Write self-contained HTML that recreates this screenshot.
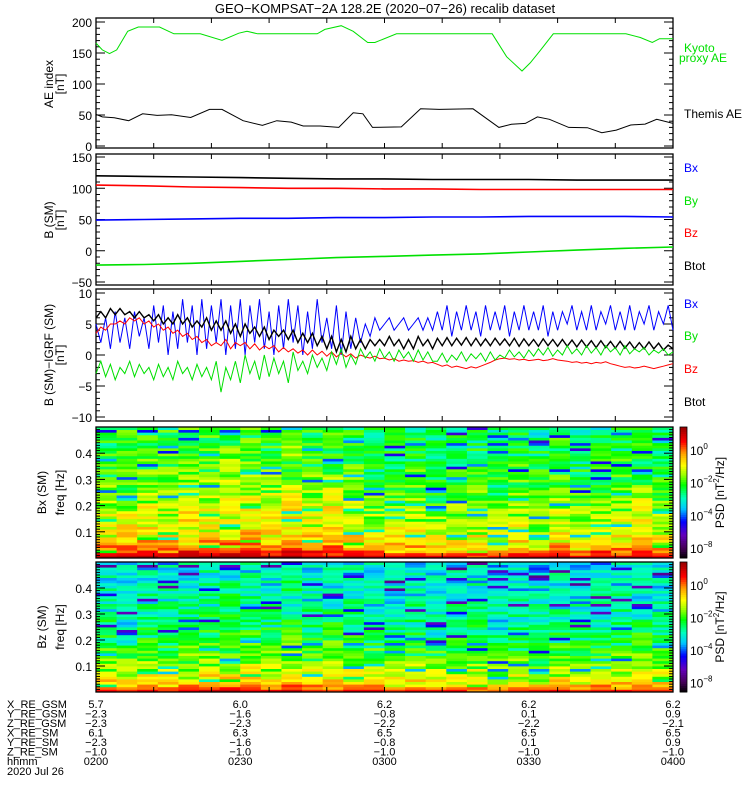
<!DOCTYPE html>
<html><head><meta charset="utf-8"><style>
html,body{margin:0;padding:0;background:#fff;}
svg{display:block;font-family:"Liberation Sans",sans-serif;}
text{font-family:"Liberation Sans",sans-serif;}
</style></head><body>
<svg id="chart" width="750" height="800" viewBox="0 0 750 800" xmlns="http://www.w3.org/2000/svg">
<text x="385" y="13" font-size="13" text-anchor="middle">GEO−KOMPSAT−2A 128.2E (2020−07−26) recalib dataset</text>
</svg>
<script>
// ---------- data ----------
const aeKyotoT = [0,1.3,2.8,4.3,6.6,8.8,13.2,16.2,21.7,26.2,29.7,31.4,33.6,46,47.6,51,53.5,56.5,58,62.5,82.4,85.4,88.6,90.3,92.3,95.1,110.2,113.2,115.7,117.2,120];
const aeKyotoV = [166,155,149,155,185,192,192,181,181,170.5,182,185,181,181,188,194,185,167,167,181,181,144,121,134,153,181,181,175,167,173,173];
const aeThemisT = [0,1.3,3.8,6.8,9.7,12.7,15.7,19.7,23.6,26.2,30.6,34.6,37.6,40.6,43.1,46.6,50.5,53.5,55.5,57.5,63.5,67.5,71.4,78.4,83.8,86.4,89.3,91.8,94.3,98.3,102.2,105.2,108.2,111.2,114.2,116.6,120];
const aeThemisV = [51,47,45.6,40.8,52,49.3,50.4,46,59,59,40.8,33.2,40.8,38.6,32.2,32.2,30,53.6,52,30,30.8,60,59,60,30,35,36.5,47,43,30,29.5,21.4,25.7,33.8,35.4,43,36.5];

const b2T = [0,10,20,30,40,50,60,70,80,90,100,110,120];
const b2Btot = [120,119,118,117,116,115,115,114,114,114,113,113,113];
const b2Bz = [105,104,102,101,100,100,99,99,98,98,98,98,98];
const b2Bx = [49,50,51,52,52,53,53,54,54,55,55,55,54];
const b2By = [-23,-22,-20,-17,-14,-11,-9,-7,-5,-2,1,4,6];

const dBx = [5,2,6,1,7,2,6,1,7,3,6,
 1,8,2,8,0,7,1,9,2,8,0,9,1,8,2,
 9,0,8,1,9,0,8,2,9,1,7,0,8,1,9,2,8,0,7,1,9,2,6,1,8,0,7,1,6,2,
 5,3,6,4,5,6,4,5,6,4,5,6,4,6,4,
 7,4,8,3,7,4,8,4,7,3,8,4,7,4,8,3,7,4,8,4,7,4,8,3,7,4,7,5,8,4,7,4,8,4,7,5,8,4,7,4,8,4,7,5,8,4,7,5,8,4];
const dBtot = [6,7,6,7.5,6.5,7.5,6.5,7,6,7,6,
 6.5,5.5,6.5,5,6,5,6.5,5,6,4.5,5.5,4.5,6,4,5.5,
 4,5.5,3.5,5,3,5,3.5,4.5,3,4.5,2.5,4,3,4,2.5,4,2,3.5,2,3.5,1.5,3,1,3,0.5,2.5,0.5,3,1,2.5,
 1,2.5,1.5,2.5,1.5,3,1.5,2.5,1,2.5,1,3,1.5,2.5,1,
 2.7,1.5,2.8,1.5,2.7,1.6,2.8,1.5,2.7,1.5,2.6,1.5,2.7,1.6,2.6,1.5,2.7,1.4,2.6,1.5,2.5,1.4,2.6,1.5,2.5,1.4,2.5,1.4,2.4,1.3,2.4,1.3,2.3,1.2,2.3,1.2,2.2,1.1,2.2,1.1,2.1,1,2,1,2.1,1,1.9,0.8,1.6,1];
const dBz = [3.5,4.5,4,5,5,5.5,5,6,5.5,6,5,
 5.5,4.5,5,4,4.5,3.5,4,3,3.5,2.5,3,2,2.5,1.5,2,
 1.5,2.5,1,2,1.5,2,1,1.8,0.8,1.5,1,1.5,0.5,1.2,0.5,1,0.3,0.8,0,0.8,0,0.6,-0.2,0.5,-0.3,0.3,-0.3,0.2,-0.5,0,
 -0.3,-0.5,-0.2,-0.6,-0.5,-0.8,-0.6,-1,-0.8,-1,-0.9,-1.2,-1,-1.3,-1.2,
 -1.5,-1.8,-1.6,-2,-1.8,-2,-2.2,-1.9,-2.1,-1.8,-1.5,-1.2,-0.8,-0.6,-0.5,-0.7,-0.6,-0.8,-0.7,-0.9,-0.8,-0.7,-0.9,-0.8,-0.6,-0.8,-0.9,-1,-1.2,-1.1,-1.3,-1.2,-1.4,-1.2,-1.3,-1.1,-1.4,-1.6,-1.8,-2,-1.9,-2.1,-2,-1.8,-2,-2.2,-2,-1.8,-1.6,-1.4];
const dBy = [-3,-1,-3.5,-1.5,-4,-2,-3,-1,-3.5,-1.5,-3,
 -2,-4,-1.5,-3.5,-2,-4,-1,-3,-2,-4,-1.5,-3.5,-2,-4,-1,
 -6,-2,-4,-1,-4.5,0,-3,-1,-4,0,-3.5,-0.5,-3,-1,-4.5,0.5,-2.5,-1,-3,0,-2,-0.5,-2.5,0.5,-1.5,1,-2,0,-1.5,1,
 -0.5,0.5,-1,1,-0.5,0.5,-1,0.8,-0.5,0.5,-1,0.8,-0.8,0.5,-1,
 -1,0.3,-1.2,0,-0.8,0.5,-1,0.2,-0.6,0.3,-1,0.5,-0.8,0,-0.5,0.8,-0.3,0.5,-0.5,0.8,-0.2,1,0,1.2,-0.2,0.8,0,1.5,0.2,1,0,1.5,0.3,1.2,0,1.5,0.5,1.2,0,1.5,0.2,1,0.5,1.2,0,0.8,0.3,1,0,0.5];

const bxRowProfile = [0.9,0.4,0,-0.3,-0.5,-0.7,-0.8,-0.9,-1.0,-1.1,-1.2,-1.2,-1.3,-1.3,-1.35,-1.4,-1.4,-1.45,-1.5,-1.5,-1.6,-1.65,-1.7,-1.75,-1.8,-1.85,-1.9,-1.95,-2,-2,-2.05,-2.1,-2.1,-2.15,-2.2,-2.2,-2.25,-2.25,-2.3,-2.3,-2.3,-2.35,-2.35,-2.4,-2.4,-2.4,-2.4,-2.45,-2.45,-2.5];
const bzRowProfile = [0.5,0,-0.4,-0.7,-0.9,-1.1,-1.2,-1.3,-1.4,-1.5,-1.6,-1.7,-1.8,-1.9,-2,-2.05,-2.1,-2.2,-2.3,-2.35,-2.4,-2.45,-2.5,-2.55,-2.6,-2.65,-2.7,-2.7,-2.75,-2.8,-2.8,-2.85,-2.9,-2.9,-2.95,-3,-3,-3,-3.05,-3.05,-3.1,-3.1,-3.1,-3.15,-3.15,-3.2,-3.2,-3.2,-3.25,-3.25];
const bxColOffset = [0.1,0.2,0.3,0.2,0.4,0.3,0.5,0.4,0.3,0.5,0.2,0.4,0.1,-0.2,-0.1,0,-0.3,-0.2,-0.1,-0.3,0,-0.2,0.1,-0.3,-0.1,0,0.2,-0.2];
const bzColOffset = [0,-0.2,0.1,0,0.1,0.2,0.3,0.2,0.1,0.3,0,0.2,0,-0.1,-0.2,0,-0.2,-0.1,0,-0.3,-0.1,-0.2,0,-0.2,-0.1,0,0.1,-0.1];
const cellTexture = [0,0.5,-0.6,0.3,-0.2,0.7,-1.5,0.2,-0.4,0.6,-0.8,0.1,0.4,-0.3,-2.2,0.5,-0.1,0.3,-0.5,0.2,0.6,-0.2,0.1];

const freqTicks = [0.1,0.2,0.3,0.4];
const cbarTickLabels = ["0","-2","-4","-8"];
const cbarTickLog = [0,-2,-4,-6];

const ephemLabels = ["X_RE_GSM","Y_RE_GSM","Z_RE_GSM","X_RE_SM","Y_RE_SM","Z_RE_SM","hhmm"];
const ephemTimes = [0,30,60,90,120];
const ephemValues = [
 ["5.7","6.0","6.2","6.2","6.2"],
 ["−2.3","−1.6","−0.8","0.1","0.9"],
 ["−2.3","−2.3","−2.2","−2.2","−2.1"],
 ["6.1","6.3","6.5","6.5","6.5"],
 ["−2.3","−1.6","−0.8","0.1","0.9"],
 ["−1.0","−1.0","−1.0","−1.0","−1.0"],
 ["0200","0230","0300","0330","0400"]];

// ---------- helpers ----------
const NS = "http://www.w3.org/2000/svg";
const svg = document.getElementById("chart");
const X0 = 96, X1 = 673, T1 = 120;
const xs = t => X0 + (t / T1) * (X1 - X0);
function mk(tag, attrs, parent) {
  const e = document.createElementNS(NS, tag);
  for (const k in attrs) e.setAttribute(k, attrs[k]);
  (parent || svg).appendChild(e);
  return e;
}
function yScale(v0, y0, v1, y1) { return v => y0 + (v - v0) * (y1 - y0) / (v1 - v0); }

function drawLine(ts, vs, ys, color, name, width) {
  let d = "";
  for (let i = 0; i < vs.length; i++) d += (i ? "L" : "M") + xs(ts[i]).toFixed(1) + " " + ys(vs[i]).toFixed(1);
  const p = mk("path", {d: d, fill: "none", stroke: color, "stroke-width": width || 1});
  
  
}
function drawBox(top, bot, name) {
  const r = mk("rect", {x: X0, y: top, width: X1 - X0, height: bot - top, fill: "none", stroke: "#000", "stroke-width": 1.3});
  
  
  for (let t = 0; t <= 120; t += 12) {
    mk("line", {x1: xs(t), x2: xs(t), y1: bot, y2: bot - 5, stroke: "#000"});
    mk("line", {x1: xs(t), x2: xs(t), y1: top, y2: top + 5, stroke: "#000"});
  }
}
function yTicks(ys, top, bot, minor, major, labels, name) {
  const vTop = ys.inv(top), vBot = ys.inv(bot);
  const lo = Math.min(vTop, vBot), hi = Math.max(vTop, vBot);
  for (let v = Math.ceil(lo / minor) * minor; v <= hi + 1e-9; v += minor) {
    const isMaj = Math.abs(v / major - Math.round(v / major)) < 1e-6;
    const L = isMaj ? 9 : 4, y = ys(v);
    mk("line", {x1: X0, x2: X0 + L, y1: y, y2: y, stroke: "#000"});
    mk("line", {x1: X1, x2: X1 - L, y1: y, y2: y, stroke: "#000"});
  }
  labels.forEach(v => {
    const t = mk("text", {x: 92, y: ys(v) + 5, "font-size": 12, "text-anchor": "end"});
    t.textContent = String(v).replace("-", "−");
    
    
  });
}
function rotText(x, y, txt, name, size) {
  const t = mk("text", {x: x, y: y, "font-size": size || 12, "text-anchor": "middle", transform: "rotate(-90 " + x + " " + y + ")"});
  t.textContent = txt;
  
  
  return t;
}
function sideLabel(x, y, txt, color, name) {
  const t = mk("text", {x: x, y: y, "font-size": 12, fill: color});
  t.textContent = txt;
  
  
}
function mkScale(v0, y0, v1, y1) { const f = yScale(v0, y0, v1, y1); f.inv = yScale(y0, v0, y1, v1); return f; }

// ---------- panel 1: AE ----------
const y1s = mkScale(200, 22, 0, 146);
drawBox(18, 148, "ae-panel-frame");
yTicks(y1s, 18, 148, 10, 50, [0, 50, 100, 150, 200], "ae-y");
drawLine(aeKyotoT, aeKyotoV, y1s, "#00e000", "kyoto-ae-line");
drawLine(aeThemisT, aeThemisV, y1s, "#000", "themis-ae-line");
rotText(53, 84, "AE index", "ae-y-axis-title");
rotText(64, 84, "[nT]", "ae-y-axis-unit");
sideLabel(684, 52, "Kyoto", "#00e000", "legend-kyoto");
sideLabel(679, 62, "proxy AE", "#00e000", "legend-proxy-ae");
sideLabel(684, 118, "Themis AE", "#000", "legend-themis-ae");

// ---------- panel 2: B SM ----------
const y2s = mkScale(150, 157, -50, 282);
drawBox(154, 285, "b-sm-panel-frame");
yTicks(y2s, 154, 285, 10, 50, [-50, 0, 50, 100, 150], "b-sm-y");
drawLine(b2T, b2Btot, y2s, "#000", "b-sm-btot-line", 1.6);
drawLine(b2T, b2Bz, y2s, "#ff0000", "b-sm-bz-line", 1.6);
drawLine(b2T, b2Bx, y2s, "#0000ff", "b-sm-bx-line", 1.6);
drawLine(b2T, b2By, y2s, "#00e000", "b-sm-by-line", 1.6);
rotText(53, 220, "B (SM)", "b-sm-y-axis-title");
rotText(64, 220, "[nT]", "b-sm-y-axis-unit");
sideLabel(684, 172, "Bx", "#0000ff", "legend-bx");
sideLabel(684, 205, "By", "#00e000", "legend-by");
sideLabel(684, 237, "Bz", "#ff0000", "legend-bz");
sideLabel(684, 270, "Btot", "#000", "legend-btot");

// ---------- panel 3: B - IGRF ----------
const y3s = mkScale(10, 293, -10, 417);
drawBox(289, 421, "b-igrf-panel-frame");
yTicks(y3s, 289, 421, 1, 5, [-10, -5, 0, 5, 10], "b-igrf-y");
const tMin = dBx.map((_, i) => i);
drawLine(tMin, dBx, y3s, "#0000ff", "b-igrf-bx-line");
drawLine(tMin, dBtot, y3s, "#000", "b-igrf-btot-line", 1.4);
drawLine(tMin, dBz, y3s, "#ff0000", "b-igrf-bz-line");
drawLine(tMin, dBy, y3s, "#00e000", "b-igrf-by-line");
rotText(53, 355, "B (SM)−IGRF (SM)", "b-igrf-y-axis-title");
rotText(64, 355, "[nT]", "b-igrf-y-axis-unit");
sideLabel(684, 308, "Bx", "#0000ff", "legend-igrf-bx");
sideLabel(684, 340, "By", "#00e000", "legend-igrf-by");
sideLabel(684, 373, "Bz", "#ff0000", "legend-igrf-bz");
sideLabel(684, 406, "Btot", "#000", "legend-igrf-btot");

// ---------- spectrograms ----------
const cstops = [[0,0,0,0],[0.08,70,0,90],[0.18,100,0,190],[0.28,0,0,255],[0.38,0,200,255],[0.46,0,255,190],[0.56,0,255,0],[0.64,160,255,0],[0.71,255,255,0],[0.80,255,160,0],[0.89,255,0,0],[1,150,0,0]];
function cmap(n) {
  n = Math.max(0, Math.min(1, n));
  for (let i = 1; i < cstops.length; i++) {
    if (n <= cstops[i][0]) {
      const a = cstops[i-1], b = cstops[i], f = (n - a[0]) / (b[0] - a[0]);
      return "rgb(" + [1,2,3].map(k => Math.round(a[k] + f * (b[k] - a[k]))).join(",") + ")";
    }
  }
  return "rgb(150,0,0)";
}
const logToNorm = l => (l + 6.6) / 8;
function spectro(top, bot, rowProf, colOff, name, label) {
  const g = mk("g", {});
  
  
  const nc = colOff.length, nr = rowProf.length;
  const fy = f => bot - (f / 0.5) * (bot - top);
  const cw = (X1 - X0) / nc;
  for (let c = 0; c < nc; c++) {
    for (let r = 0; r < nr; r++) {
      const ti = (r * 7 + c * 11 + ((r * c) % 5)) % cellTexture.length;
      const v = rowProf[r] + colOff[c] + cellTexture[ti] * (r < 2 ? 0.3 : 1);
      const y0 = fy((r + 1) * 0.01), y1 = fy(r * 0.01);
      const cell = mk("rect", {x: (X0 + c * cw).toFixed(2), y: y0.toFixed(2), width: (cw + 0.5).toFixed(2), height: (y1 - y0 + 0.4).toFixed(2), fill: cmap(logToNorm(v))}, g);
      
      
    }
  }
  const fr = mk("rect", {x: X0, y: top, width: X1 - X0, height: bot - top, fill: "none", stroke: "#000", "stroke-width": 1.3});
  
  
  for (let f = 0.01; f < 0.5; f += 0.01) {
    const maj = Math.abs(f * 10 - Math.round(f * 10)) < 1e-6;
    const L = maj ? 9 : 4;
    mk("line", {x1: X0, x2: X0 + L, y1: fy(f), y2: fy(f), stroke: "#000"});
    mk("line", {x1: X1, x2: X1 - L, y1: fy(f), y2: fy(f), stroke: "#000"});
  }
  for (let t = 0; t <= 120; t += 12) {
    mk("line", {x1: xs(t), x2: xs(t), y1: bot, y2: bot - 5, stroke: "#000"});
    mk("line", {x1: xs(t), x2: xs(t), y1: top, y2: top + 5, stroke: "#000"});
  }
  freqTicks.forEach(f => {
    const t = mk("text", {x: 92, y: fy(f) + 5, "font-size": 12, "text-anchor": "end"});
    t.textContent = f.toFixed(1);
    
    
  });
  const mid = (top + bot) / 2;
  rotText(46, mid, label, name + '-y-axis-title');
  rotText(64, mid, "freq [Hz]", name + '-y-axis-unit');
  const cb = mk("g", {});
  
  
  const n = 60;
  for (let i = 0; i < n; i++) {
    const yy = bot - (i + 1) * (bot - top) / n;
    mk("rect", {x: 680, y: yy, width: 7, height: (bot - top) / n + 0.5, fill: cmap((i + 0.5) / n)}, cb);
  }
  mk("rect", {x: 680, y: top, width: 7, height: bot - top, fill: "none", stroke: "#000", "stroke-width": 0.8}, cb);
  cbarTickLog.forEach((l, i) => {
    const yy = bot - logToNorm(l) * (bot - top);
    const t = mk("text", {x: 690, y: yy + 5, "font-size": 12});
    t.textContent = "10";
    const s = mk("tspan", {dy: -6, "font-size": 8}, t);
    s.textContent = cbarTickLabels[i].replace("-", "−");
    
    
  });
  const pt = mk("text", {x: 724, y: mid, "font-size": 12, "text-anchor": "middle", transform: "rotate(-90 724 " + mid + ")"});
  pt.textContent = "PSD [nT";
  const sup = mk("tspan", {dy: -5, "font-size": 8}, pt); sup.textContent = "2";
  const rest = mk("tspan", {dy: 5}, pt); rest.textContent = "/Hz]";
  
  
}
spectro(427, 558, bxRowProfile, bxColOffset, "bx-spectrogram", "Bx (SM)");
spectro(562, 692, bzRowProfile, bzColOffset, "bz-spectrogram", "Bz (SM)");

// ---------- ephemeris ----------
ephemLabels.forEach((lab, r) => {
  const y = 708 + r * 9.5;
  const t = mk("text", {x: 7, y: y, "font-size": 11});
  t.textContent = lab;
  
  
  ephemTimes.forEach((tm, c) => {
    const v = mk("text", {x: xs(tm), y: y, "font-size": 11, "text-anchor": "middle"});
    v.textContent = ephemValues[r][c];
    
    
  });
});
const dt = mk("text", {x: 7, y: 775, "font-size": 11});
dt.textContent = "2020 Jul 26";


</script>
</body></html>
